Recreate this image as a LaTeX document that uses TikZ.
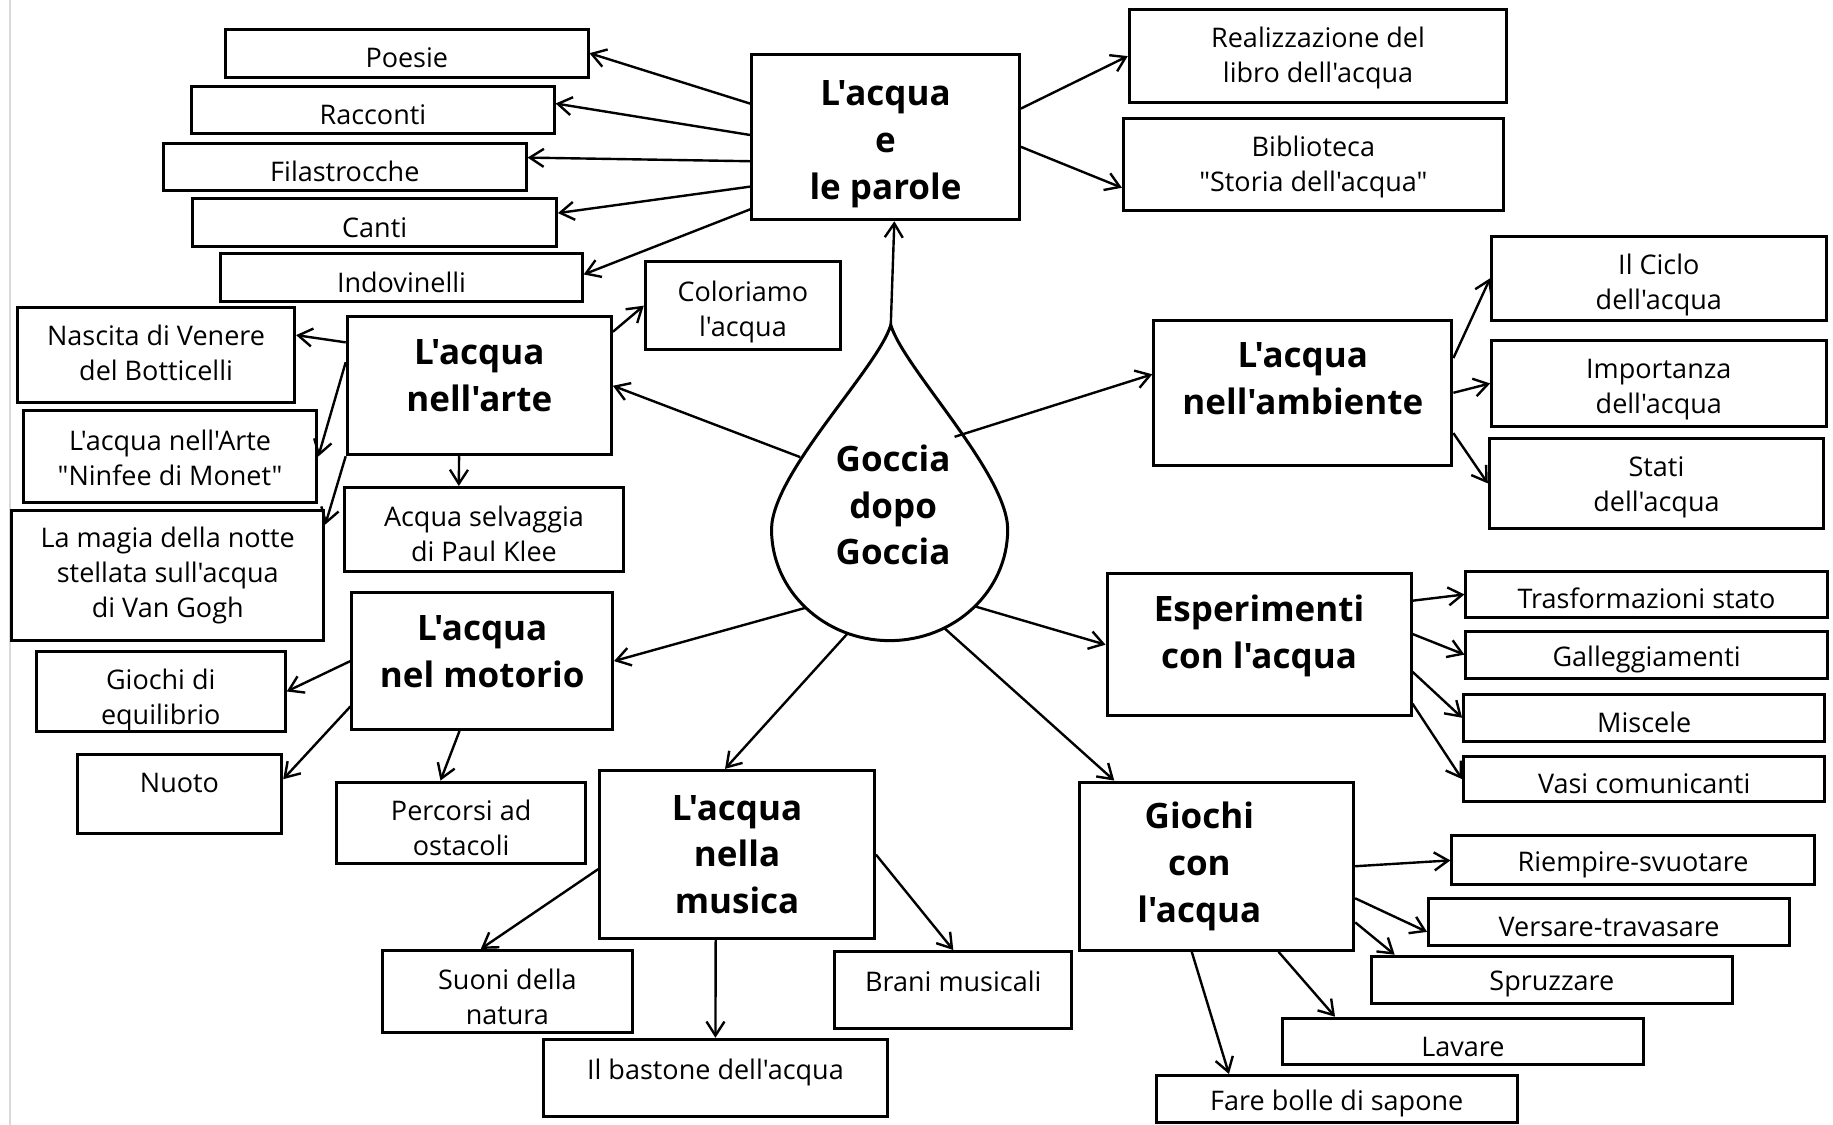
\documentclass[tikz,border=0pt]{standalone}
\usepackage{fontspec}
\setmainfont{Open Sans}[Ligatures=TeXOff]
\usetikzlibrary{arrows.meta,shapes.geometric}
\newdimen\pxu \pxu=0.5845pt
\tikzset{
	frame/.style={draw, line width=1.5pt, align=center, inner sep=0pt},
	box/.style={frame, font=\fontsize{13.5}{17.5}\selectfont, execute at begin node=\rule{0pt}{14.6pt}},
	bigbox/.style={frame, font=\fontsize{17.5}{23.4}\selectfont\bfseries},
	sz/.style 2 args={minimum width=#1*\pxu, minimum height=#2*\pxu},
	arr/.style={line width=1.2pt, -{Straight Barb[length=7pt,width=9pt]}},
	rim/.style={line width=1.5pt}
}
\begin{document}
\begin{tikzpicture}[x=0.5845pt, y=-0.5845pt]
	\useasboundingbox (0,0) rectangle (1568,962);
	\draw[gray!30, line width=1pt] (8.5,0) -- (8.5,962);
	\node[bigbox, sz={229}{141}, text height=66pt] (parole) at (757.5,117.5) {L'acqua\\e\\le parole};
	\node[box, sz={310}{41}] (poesie) at (348,45.5) {Poesie};
	\node[box, sz={310}{40}] (racconti) at (319,94) {Racconti};
	\node[box, sz={310}{40}] (filastrocche) at (295,143) {Filastrocche};
	\node[box, sz={311}{41}] (canti) at (320.5,190.5) {Canti};
	\node[box, sz={309}{41}] (indovinelli) at (343.5,237.5) {Indovinelli};
	\node[box, sz={323}{80}, text height=30.1pt] (libro) at (1127.5,48) {Realizzazione del\\libro dell'acqua};
	\node[box, sz={325}{79}, text height=30.1pt] (biblioteca) at (1123.5,140.5) {Biblioteca\\"Storia dell'acqua"};
	\node[bigbox, sz={226}{118}, text depth=10.5pt] (arte) at (410,330) {L'acqua\\nell'arte};
	\node[box, sz={167}{75}, text height=33.6pt] (coloriamo) at (635.5,261.5) {Coloriamo\\l'acqua};
	\node[box, sz={237}{81}, text height=25.5pt] (nascita) at (133.5,303.5) {Nascita di Venere\\del Botticelli};
	\node[box, sz={251}{79}, text height=29pt] (ninfee) at (145.5,390.5) {L'acqua nell'Arte\\"Ninfee di Monet"};
	\node[box, sz={267}{111}] (magia) at (143.5,492.5) {La magia della notte\\stellata sull'acqua\\di Van Gogh};
	\node[box, sz={238}{72}, text height=32.5pt] (klee) at (414,453) {Acqua selvaggia\\di Paul Klee};
	\node[bigbox, sz={255}{124}, text depth=14pt] (ambiente) at (1114.5,336) {L'acqua\\nell'ambiente};
	\node[box, sz={286}{72}, text height=34.8pt] (ciclo) at (1419,238) {Il Ciclo\\dell'acqua};
	\node[box, sz={286}{74}, text height=33.6pt] (importanza) at (1419,328) {Importanza\\dell'acqua};
	\node[box, sz={286}{77}, text height=31.3pt] (stati) at (1417,413.5) {Stati\\dell'acqua};
	\node[bigbox, sz={260}{121}, text depth=13pt] (esperimenti) at (1077,551.5) {Esperimenti\\con l'acqua};
	\node[box, sz={309}{39}] (trasformazioni) at (1408.5,508.5) {Trasformazioni stato};
	\node[box, sz={309}{40}] (galleggiamenti) at (1408.5,560) {Galleggiamenti};
	\node[box, sz={309}{40}] (miscele) at (1406.5,614) {Miscele};
	\node[box, sz={309}{39}] (vasi) at (1406.5,666.5) {Vasi comunicanti};
	\node[bigbox, sz={223}{117}, text depth=9.4pt] (motorio) at (412.5,565.5) {L'acqua\\nel motorio};
	\node[box, sz={213}{69}, text height=36pt] (equilibrio) at (137.5,591.5) {Giochi di\\equilibrio};
	\node[box, sz={175}{68}, text depth=16.3pt] (nuoto) at (153.5,679) {Nuoto};
	\node[box, sz={213}{70}, text height=32.5pt] (percorsi) at (394.5,704) {Percorsi ad\\ostacoli};
	\node[bigbox, sz={235}{144}] (musica) at (630.5,731) {L'acqua\\nella\\musica};
	\node[box, sz={214}{70}, text height=33.6pt] (suoni) at (434,848) {Suoni della\\natura};
	\node[box, sz={294}{66}, text depth=13.3pt] (bastone) at (612,922) {Il bastone dell'acqua};
	\node[box, sz={203}{66}, text depth=12.9pt] (brani) at (815.5,847) {Brani musicali};
	\node[bigbox, sz={235}{144}] (giochi) at (1040.5,741) {Giochi\kern17pt\\con\kern17pt\\l'acqua\kern17pt};
	\node[box, sz={310}{42}] (riempire) at (1397,736) {Riempire-svuotare};
	\node[box, sz={309}{40}] (versare) at (1376.5,789) {Versare-travasare};
	\node[box, sz={309}{40}] (spruzzare) at (1327.5,838) {Spruzzare};
	\node[box, sz={309}{40}] (lavare) at (1251.5,891) {Lavare};
	\node[box, sz={309}{40}] (bolle) at (1143.5,940) {Fare bolle di sapone};
	\node[ellipse, sz={202}{190}, outer sep=0pt] (drop) at (761,453) {};
	\coordinate (tip) at (762,278);
	\draw[rim] (tip) .. controls (751,315) and (660,405) .. (660,453)
		arc[start angle=180, end angle=0, x radius=101, y radius=95]
		.. controls (862,405) and (773,315) .. (tip) -- cycle;
	\node[font=\fontsize{17.5}{23.4}\selectfont\bfseries, align=center] (goccia) at (764,432) {Goccia\\dopo\\Goccia};
	\draw[arr] (tip) -- (parole.276);
	\draw[arr] (parole.166) -- (poesie.east);
	\draw[arr] (parole.179) -- (racconti.2);
	\draw[arr] (parole.190) -- (filastrocche.3);
	\draw[arr] (parole.200) -- (canti.3);
	\draw[arr] (parole.208) -- (indovinelli.1);
	\draw[arr] (parole.12) -- (libro.west);
	\draw[arr] (parole.356) -- (biblioteca.187);
	\draw[arr] (drop.141) -- (arte.east);
	\draw[arr] (arte.22) -- (coloriamo.west);
	\draw[arr] (arte.162) -- (nascita.8);
	\draw[arr] (arte.170) -- (ninfee.east);
	\draw[arr] (arte.south west) -- (magia.18);
	\draw[arr] (arte.254) -- (klee.120);
	\draw[arr] (drop.55) -- (ambiente.173);
	\draw[arr] (ambiente.13) -- (ciclo.west);
	\draw[arr] (ambiente.east) -- (importanza.west);
	\draw[arr] (ambiente.345) -- (stati.west);
	\draw[arr] (drop.318) -- (esperimenti.west);
	\draw[arr] (esperimenti.16) -- (trasformazioni.west);
	\draw[arr] (esperimenti.4) -- (galleggiamenti.west);
	\draw[arr] (esperimenti.350) -- (miscele.west);
	\draw[arr] (esperimenti.339) -- (vasi.west);
	\draw[arr] (drop.223) -- (motorio.east);
	\draw[arr] (motorio.west) -- (equilibrio.east);
	\draw[arr] (motorio.199) -- (nuoto.8);
	\draw[arr] (motorio.252) -- (percorsi.116);
	\draw[arr] (drop.248) -- (musica.98);
	\draw[arr] (musica.186) -- (suoni.122);
	\draw[arr] (musica.256) -- (bastone.north);
	\draw[arr] (musica.east) -- (brani.north);
	\draw[arr] (drop.299) -- (giochi.140);
	\draw[arr] (giochi.east) -- (riempire.west);
	\draw[arr] (giochi.347) -- (versare.183);
	\draw[arr] (giochi.338) -- (spruzzare.171);
	\draw[arr] (giochi.306) -- (lavare.169);
	\draw[arr] (giochi.254) -- (bolle.167);
\end{tikzpicture}
\end{document}
